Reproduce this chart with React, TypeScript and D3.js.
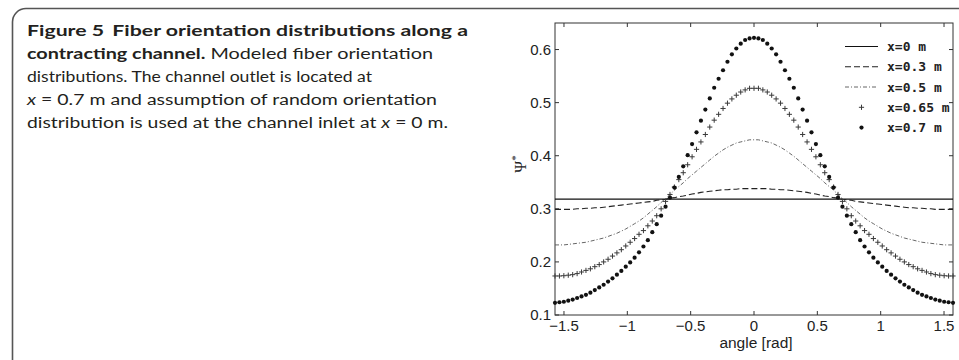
import React from "react";
import * as d3 from "d3";

// angle grid in degrees (converted to rad for plotting)
const ANGLE_DEG = [
  -90, -88, -86, -84, -82, -80, -78, -76, -74, -72,
  -70, -68, -66, -64, -62, -60, -58, -56, -54, -52,
  -50, -48, -46, -44, -42, -40, -38, -36, -34, -32,
  -30, -28, -26, -24, -22, -20, -18, -16, -14, -12,
  -10, -8, -6, -4, -2,
  0,
  2, 4, 6, 8, 10, 12, 14, 16, 18, 20,
  22, 24, 26, 28, 30, 32, 34, 36, 38, 40,
  42, 44, 46, 48, 50, 52, 54, 56, 58, 60,
  62, 64, 66, 68, 70, 72, 74, 76, 78, 80,
  82, 84, 86, 88, 90,
];

const ANGLE_EDGE_DEG = [-90, 90];
const PSI_X00 = [0.3183, 0.3183];

const PSI_X03 = [
  0.299, 0.299, 0.299, 0.299, 0.299, 0.300, 0.300, 0.301, 0.301, 0.302,
  0.302, 0.303, 0.304, 0.305, 0.306, 0.307, 0.308, 0.309, 0.310, 0.311,
  0.312, 0.313, 0.314, 0.316, 0.317, 0.318, 0.320, 0.321, 0.323, 0.324,
  0.326, 0.328, 0.329, 0.331, 0.332, 0.333, 0.334, 0.335, 0.336, 0.336,
  0.337, 0.337, 0.338, 0.338, 0.338,
  0.338,
  0.338, 0.338, 0.338, 0.337, 0.337, 0.336, 0.336, 0.335, 0.334, 0.333,
  0.332, 0.331, 0.329, 0.328, 0.326, 0.324, 0.323, 0.321, 0.320, 0.318,
  0.317, 0.316, 0.314, 0.313, 0.312, 0.311, 0.310, 0.309, 0.308, 0.307,
  0.306, 0.305, 0.304, 0.303, 0.302, 0.302, 0.301, 0.301, 0.300, 0.300,
  0.299, 0.299, 0.299, 0.299, 0.299,
];

const PSI_X05 = [
  0.232, 0.232, 0.232, 0.233, 0.234, 0.235, 0.236, 0.237, 0.239, 0.241,
  0.243, 0.245, 0.248, 0.251, 0.254, 0.258, 0.262, 0.267, 0.272, 0.277,
  0.283, 0.290, 0.297, 0.304, 0.312, 0.319, 0.327, 0.335, 0.342, 0.349,
  0.357, 0.364, 0.371, 0.378, 0.385, 0.392, 0.399, 0.405, 0.411, 0.416,
  0.420, 0.424, 0.426, 0.428, 0.430,
  0.430,
  0.430, 0.428, 0.426, 0.424, 0.420, 0.416, 0.411, 0.405, 0.399, 0.392,
  0.385, 0.378, 0.371, 0.364, 0.357, 0.349, 0.342, 0.335, 0.327, 0.319,
  0.312, 0.304, 0.297, 0.290, 0.283, 0.277, 0.272, 0.267, 0.262, 0.258,
  0.254, 0.251, 0.248, 0.245, 0.243, 0.241, 0.239, 0.237, 0.236, 0.235,
  0.234, 0.233, 0.232, 0.232, 0.232,
];

const PSI_X065 = [
  0.1735, 0.1735, 0.174, 0.175, 0.176, 0.178, 0.181, 0.184, 0.187, 0.191,
  0.195, 0.200, 0.205, 0.211, 0.217, 0.223, 0.230, 0.237, 0.244, 0.252,
  0.259, 0.268, 0.277, 0.287, 0.300, 0.314, 0.327, 0.341, 0.355, 0.368,
  0.383, 0.398, 0.412, 0.426, 0.440, 0.454, 0.467, 0.478, 0.489, 0.499,
  0.507, 0.514, 0.520, 0.524, 0.527,
  0.527,
  0.527, 0.524, 0.520, 0.514, 0.507, 0.499, 0.489, 0.478, 0.467, 0.454,
  0.440, 0.426, 0.412, 0.398, 0.383, 0.368, 0.355, 0.341, 0.327, 0.314,
  0.300, 0.287, 0.277, 0.268, 0.259, 0.252, 0.244, 0.237, 0.230, 0.223,
  0.217, 0.211, 0.205, 0.200, 0.195, 0.191, 0.187, 0.184, 0.181, 0.178,
  0.176, 0.175, 0.174, 0.1735, 0.1735,
];

const PSI_X07 = [
  0.123, 0.124, 0.125, 0.127, 0.129, 0.132, 0.135, 0.138, 0.142, 0.147,
  0.152, 0.157, 0.163, 0.169, 0.176, 0.183, 0.191, 0.199, 0.208, 0.218,
  0.229, 0.241, 0.256, 0.271, 0.287, 0.304, 0.321, 0.340, 0.360, 0.380,
  0.401, 0.422, 0.444, 0.466, 0.487, 0.508, 0.528, 0.545, 0.561, 0.577,
  0.591, 0.602, 0.611, 0.618, 0.621,
  0.622,
  0.621, 0.618, 0.611, 0.602, 0.591, 0.577, 0.561, 0.545, 0.528, 0.508,
  0.487, 0.466, 0.444, 0.422, 0.401, 0.380, 0.360, 0.340, 0.321, 0.304,
  0.287, 0.271, 0.256, 0.241, 0.229, 0.218, 0.208, 0.199, 0.191, 0.183,
  0.176, 0.169, 0.163, 0.157, 0.152, 0.147, 0.142, 0.138, 0.135, 0.132,
  0.129, 0.127, 0.125, 0.124, 0.123,
];

const X_TICKS = [-1.5, -1, -0.5, 0, 0.5, 1, 1.5];
const Y_TICKS = [0.1, 0.2, 0.3, 0.4, 0.5, 0.6];
const LEGEND_LABELS = ["x=0 m", "x=0.3 m", "x=0.5 m", "x=0.65 m", "x=0.7 m"];

const W = 959;
const H = 360;
const PL = 555, PR = 953, PT = 23, PB = 315;

const toRad = (d: number) => (d * Math.PI) / 180;

export default function App() {
  const x = d3.scaleLinear().domain([-Math.PI / 2, Math.PI / 2]).range([PL, PR]);
  const y = d3.scaleLinear().domain([0.1, 0.65]).range([PB, PT]);

  const line = d3
    .line<[number, number]>()
    .x((d) => x(d[0]))
    .y((d) => y(d[1]));

  const pts = (deg: number[], vals: number[]) =>
    deg.map((d, i) => [toRad(d), vals[i]] as [number, number]);

  const p00 = pts(ANGLE_EDGE_DEG, PSI_X00);
  const p03 = pts(ANGLE_DEG, PSI_X03);
  const p05 = pts(ANGLE_DEG, PSI_X05);
  const p065 = pts(ANGLE_DEG, PSI_X065);
  const p07 = pts(ANGLE_DEG, PSI_X07);

  const fmt = (v: number) => (v < 0 ? "\u2212" + String(Math.abs(v)) : String(v));

  const tickLen = 4;
  const axisColor = "#333";
  const legendY = [46.5, 66.7, 87, 107.3, 127.6];
  const lx0 = 845, lx1 = 878, ltx = 887;

  const plus = (cx: number, cy: number, s: number, key: any) => (
    <path key={key} d={`M${cx - s},${cy}H${cx + s}M${cx},${cy - s}V${cy + s}`} stroke="#3a3a3a" strokeWidth={1} fill="none" />
  );

  const capFont = "Lato, 'Open Sans', sans-serif";

  return (
    <svg
      width={W}
      height={H}
      viewBox={`0 0 ${W} ${H}`}
      style={{ position: "absolute", left: 0, top: 0, background: "#fff" }}
      xmlns="http://www.w3.org/2000/svg"
    >
      <rect x={0} y={0} width={W} height={H} fill="#fff" />
      {/* frame */}
      <path d={`M12.5,${H + 5} V22 A13.5,13.5 0 0 1 26,8.5 H${W + 5}`} fill="none" stroke="#555" strokeWidth={1.6} />

      {/* caption */}
      <g fontFamily={capFont} fontSize={15.5} fill="#231f20">
        <text x={27} y={36} textLength={441} lengthAdjust="spacingAndGlyphs" fontWeight="bold">
          Figure 5<tspan dx={6}>Fiber orientation distributions along a</tspan>
        </text>
        <text x={27} y={59} textLength={406} lengthAdjust="spacingAndGlyphs">
          <tspan fontWeight="bold">contracting channel.</tspan> Modeled fiber orientation
        </text>
        <text x={27} y={82} textLength={345} lengthAdjust="spacingAndGlyphs">
          distributions. The channel outlet is located at
        </text>
        <text x={27} y={105} textLength={410} lengthAdjust="spacingAndGlyphs">
          <tspan fontStyle="italic">x</tspan> = 0.7 m and assumption of random orientation
        </text>
        <text x={27} y={127.5} textLength={421} lengthAdjust="spacingAndGlyphs">
          distribution is used at the channel inlet at <tspan fontStyle="italic">x</tspan> = 0 m.
        </text>
      </g>

      {/* plot box */}
      <rect x={PL} y={PT} width={PR - PL} height={PB - PT} fill="#fff" stroke={axisColor} strokeWidth={1} />

      {/* ticks */}
      <g stroke={axisColor} strokeWidth={1}>
        {X_TICKS.map((t) => (
          <g key={"xt" + t}>
            <line x1={x(t)} x2={x(t)} y1={PB} y2={PB - tickLen} />
            <line x1={x(t)} x2={x(t)} y1={PT} y2={PT + tickLen} />
          </g>
        ))}
        {Y_TICKS.map((t) => (
          <g key={"yt" + t}>
            <line x1={PL} x2={PL + tickLen} y1={y(t)} y2={y(t)} />
            <line x1={PR} x2={PR - tickLen} y1={y(t)} y2={y(t)} />
          </g>
        ))}
      </g>

      <g fontFamily="'Liberation Sans', Arial, sans-serif" fontSize={15} fill="#222">
        {X_TICKS.map((t) => (
          <text key={"xl" + t} x={x(t)} y={330.5} textAnchor="middle">
            {fmt(t)}
          </text>
        ))}
        {Y_TICKS.map((t) => (
          <text key={"yl" + t} x={551} y={y(t) + 5.3} textAnchor="end">
            {String(t)}
          </text>
        ))}
        <text x={756} y={347.5} textAnchor="middle" fontSize={15.5}>
          angle [rad]
        </text>
      </g>

      {/* y label */}
      <text
        transform="translate(525.5,164) rotate(-90)"
        textAnchor="middle"
        fontFamily="'Liberation Serif', 'DejaVu Serif', serif"
        fontSize={16}
        fill="#222"
      >
        Ψ<tspan dy={-7} fontSize={11}>*</tspan>
      </text>

      {/* series */}
      <path d={line(p00) || ""} fill="none" stroke="#111" strokeWidth={1.1} />
      <path d={line(p03) || ""} fill="none" stroke="#222" strokeWidth={1.1} strokeDasharray="6,3" />
      <path d={line(p05) || ""} fill="none" stroke="#555" strokeWidth={0.9} strokeDasharray="4,2,1,2" />
      <g>{p065.map((d, i) => plus(x(d[0]), y(d[1]), 2.6, "p" + i))}</g>
      <g fill="#111">
        {p07.map((d, i) => (
          <circle key={"c" + i} cx={x(d[0])} cy={y(d[1])} r={2.1} />
        ))}
      </g>

      {/* legend */}
      <g>
        <line x1={lx0} x2={lx1} y1={legendY[0]} y2={legendY[0]} stroke="#111" strokeWidth={1.1} />
        <line x1={lx0} x2={lx1} y1={legendY[1]} y2={legendY[1]} stroke="#222" strokeWidth={1.1} strokeDasharray="6,3" />
        <line x1={lx0} x2={lx1} y1={legendY[2]} y2={legendY[2]} stroke="#555" strokeWidth={0.9} strokeDasharray="4,2,1,2" />
        {plus((lx0 + lx1) / 2, legendY[3], 2.6, "lp")}
        <circle cx={(lx0 + lx1) / 2} cy={legendY[4]} r={2.1} fill="#111" />
        <g fontFamily="'DejaVu Sans Mono', monospace" fontSize={13} fontWeight="bold" fill="#222">
          {LEGEND_LABELS.map((l, i) => (
            <text key={l} x={ltx} y={legendY[i] + 4.5} xmlSpace="preserve">
              {l}
            </text>
          ))}
        </g>
      </g>
    </svg>
  );
}
